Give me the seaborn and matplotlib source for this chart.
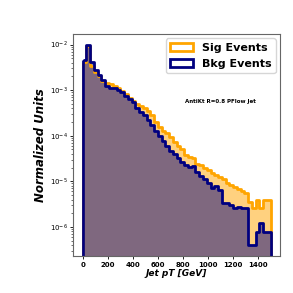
import numpy as np
import pandas as pd
import matplotlib
matplotlib.use("Agg")
import matplotlib.pyplot as plt
import seaborn as sns
from matplotlib.patches import Patch

# Bins de 30 GeV entre 0 e 1500 GeV
bin_edges = list(range(0, 1530, 30))

# Valores normalizados (um por bin)
sig_values = [4.1e-3, 9.2e-3, 3.35e-3, 2.5e-3, 2.0e-3, 1.57e-3, 1.42e-3, 1.35e-3, 1.22e-3, 1.11e-3,
              9.5e-4, 8.2e-4, 6.7e-4, 5.7e-4, 4.9e-4, 4.45e-4, 4.0e-4, 3.5e-4, 2.8e-4, 2.0e-4,
              1.55e-4, 1.26e-4, 1.14e-4, 9.3e-5, 7.3e-5, 5.9e-5, 5.1e-5, 3.8e-5, 3.4e-5, 3.25e-5,
              2.4e-5, 2.3e-5, 1.95e-5, 1.77e-5, 1.5e-5, 1.4e-5, 1.25e-5, 1.1e-5, 9.3e-6, 8.3e-6,
              7.5e-6, 6.8e-6, 6.1e-6, 5.6e-6, 3.5e-6, 2.6e-6, 3.9e-6, 2.6e-6, 3.9e-6, 3.9e-6]
bkg_values = [4.5e-3, 1.0e-2, 4.1e-3, 2.7e-3, 2.1e-3, 1.65e-3, 1.22e-3, 1.1e-3, 1.1e-3, 1.0e-3,
              9.0e-4, 7.4e-4, 6.3e-4, 5.5e-4, 4.0e-4, 3.3e-4, 2.8e-4, 2.2e-4, 1.7e-4, 1.26e-4,
              9.8e-5, 7.7e-5, 5.9e-5, 4.6e-5, 4.0e-5, 3.25e-5, 2.65e-5, 2.3e-5, 2.1e-5, 2.2e-5,
              1.6e-5, 1.3e-5, 1.1e-5, 9.3e-6, 7.2e-6, 8.0e-6, 6.5e-6, 3.3e-6, 3.3e-6, 3.1e-6,
              2.6e-6, 2.7e-6, 2.6e-6, 2.6e-6, 4.1e-7, 4.1e-7, 7.8e-7, 1.2e-6, 7.8e-7, 7.8e-7]
x_ticks = [0, 200, 400, 600, 800, 1000, 1200, 1400]

df = pd.DataFrame({
    "pt": np.array(bin_edges[:-1]) + 15,
    "sig": sig_values,
    "bkg": bkg_values,
})

plt.rcParams["mathtext.default"] = "bf"

fig, ax = plt.subplots(figsize=(2.93, 2.93), dpi=100)
fig.subplots_adjust(left=0.25, right=0.956, bottom=0.126, top=0.884)

# Preenchimentos primeiro
sns.histplot(data=df, x="pt", weights="sig", bins=bin_edges, element="step", fill=True,
             color="orange", alpha=0.5, linewidth=0, ax=ax)
sns.histplot(data=df, x="pt", weights="bkg", bins=bin_edges, element="step", fill=True,
             color="navy", alpha=0.5, linewidth=0, ax=ax)
# Contornos por cima
sns.histplot(data=df, x="pt", weights="sig", bins=bin_edges, element="step", fill=True,
             color="orange", facecolor="none", linewidth=2, ax=ax)
sns.histplot(data=df, x="pt", weights="bkg", bins=bin_edges, element="step", fill=True,
             color="navy", facecolor="none", linewidth=2, ax=ax)

ax.set_yscale("log")
ax.set_ylim(2.3e-7, 1.7e-2)
ax.set_xlim(-75, 1575)
ax.set_xticks(x_ticks)

ax.set_xlabel("Jet pT [GeV]", fontsize=6.5, fontweight="bold", fontstyle="italic", labelpad=1)
ax.set_ylabel("Normalized Units", fontsize=8.5, fontweight="bold", fontstyle="italic", labelpad=2)
ax.tick_params(axis="both", which="major", labelsize=5, length=2.5, width=0.6, pad=1.5)
ax.tick_params(axis="y", which="minor", length=1.5, width=0.4)
for lbl in ax.get_xticklabels():
    lbl.set_fontweight("bold")
for sp in ax.spines.values():
    sp.set_color("0.4")
    sp.set_linewidth(0.8)

ax.text(0.71, 0.698, "AntiKt R=0.8 PFlow Jet", transform=ax.transAxes, fontsize=4,
        fontweight="bold", ha="center", va="center")

handles = [Patch(facecolor="white", edgecolor="orange", linewidth=2, label="Sig Events"),
           Patch(facecolor="white", edgecolor="navy", linewidth=2, label="Bkg Events")]
ax.legend(handles=handles, loc="upper right", prop={"size": 8, "weight": "bold"},
          borderaxespad=0.4, handletextpad=0.8, labelspacing=0.55)

plt.savefig("out.png", dpi=100)
